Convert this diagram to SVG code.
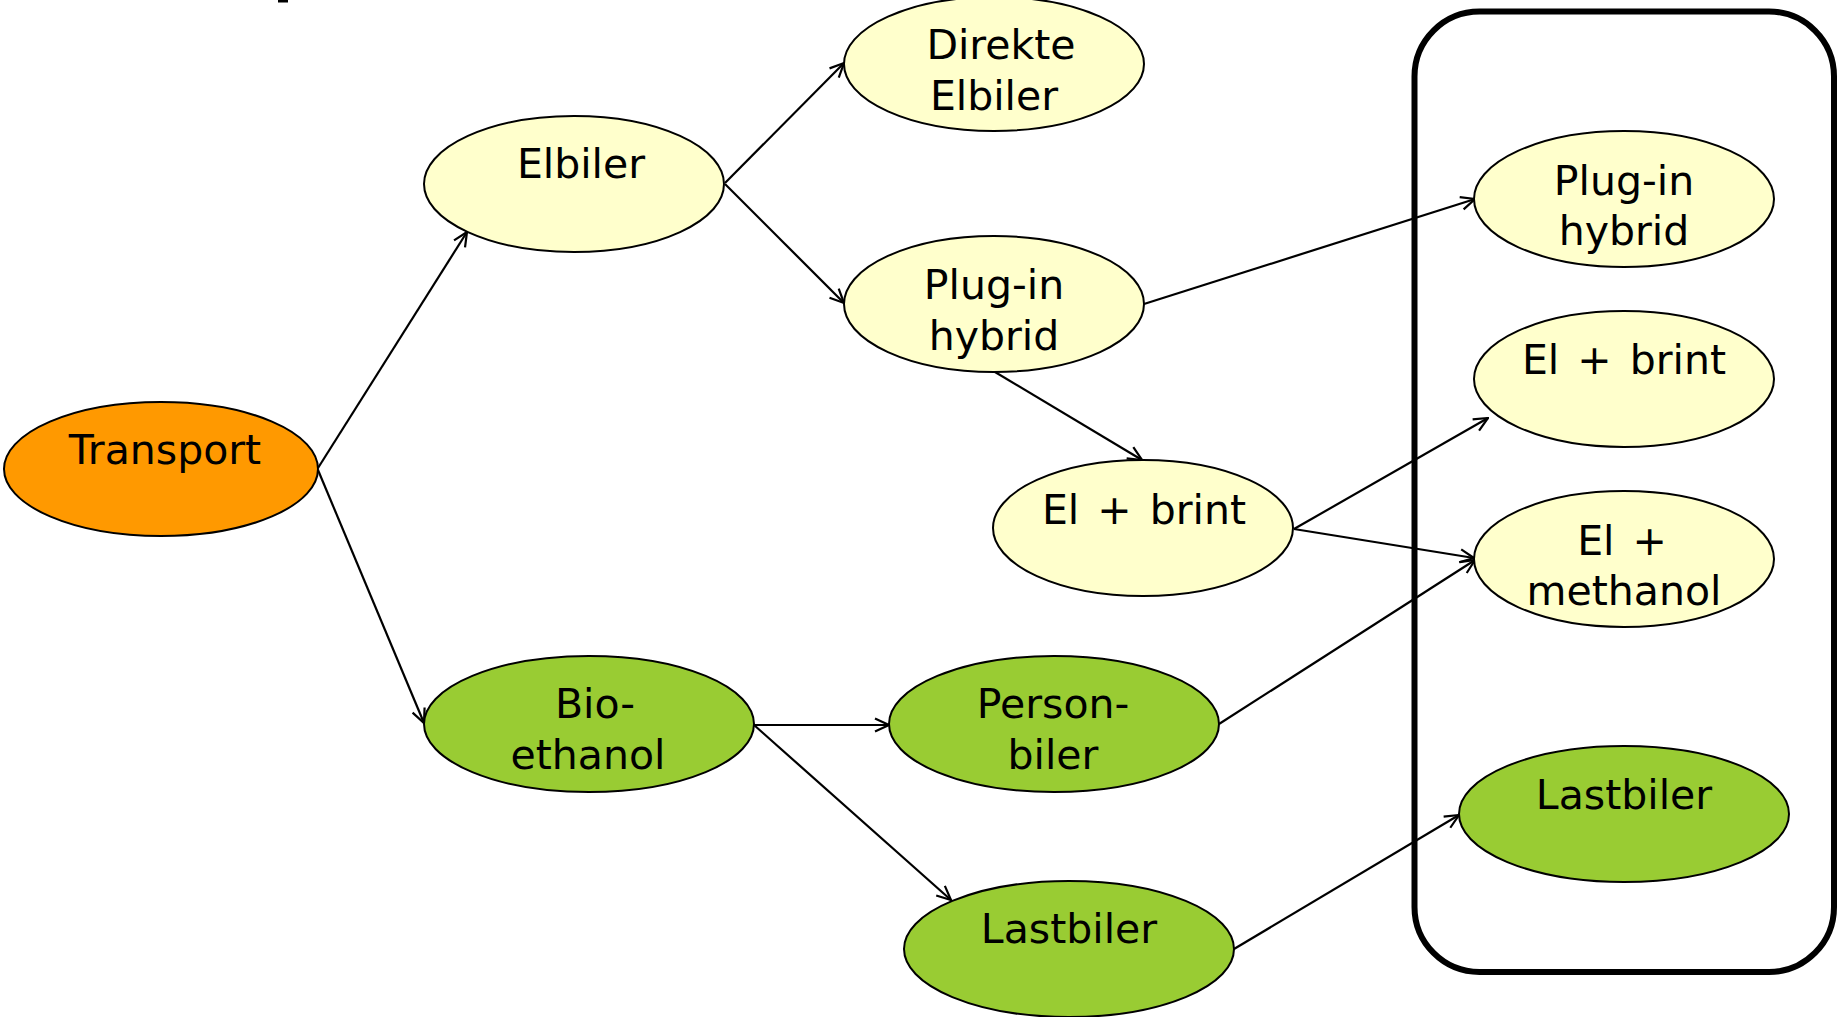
<svg xmlns="http://www.w3.org/2000/svg" width="1838" height="1017" viewBox="0 0 1838 1017">
<defs>
<style>
.y{fill:#FFFFCC;stroke:#000;stroke-width:2}
.o{fill:#FF9900;stroke:#000;stroke-width:2}
.g{fill:#99CC33;stroke:#000;stroke-width:2}
text{font-family:"DejaVu Sans","Liberation Sans",sans-serif;font-size:41px;fill:#000;text-anchor:middle}
.w{word-spacing:5px}
.c line{stroke:#000;stroke-width:2.2;marker-end:url(#ah)}
</style>
<marker id="ah" viewBox="0 0 16 16" refX="15" refY="8" markerWidth="16" markerHeight="16" markerUnits="userSpaceOnUse" orient="auto">
<path d="M1,1.5 L15,8 L1,14.5" fill="none" stroke="#000" stroke-width="2.2"/>
</marker>
</defs>
<rect width="1838" height="1017" fill="#fff"/>
<rect x="278" y="0" width="10" height="2.5" fill="#000"/>
<rect id="group-box" x="1414.5" y="11.5" width="419.5" height="960.5" rx="65" ry="65" fill="none" stroke="#000" stroke-width="6"/>
<g class="c" id="connectors">
<line x1="318" y1="468" x2="467" y2="232"/>
<line x1="318" y1="470" x2="424" y2="723"/>
<line x1="725" y1="183" x2="844" y2="63"/>
<line x1="725" y1="184" x2="844" y2="303"/>
<line x1="995" y1="372" x2="1142" y2="460"/>
<line x1="1144" y1="304" x2="1475" y2="199"/>
<line x1="1294" y1="529" x2="1488" y2="418"/>
<line x1="1294" y1="529" x2="1474" y2="558"/>
<line x1="754" y1="725" x2="889" y2="725"/>
<line x1="754" y1="725" x2="951" y2="900"/>
<line x1="1219" y1="724" x2="1475" y2="560"/>
<line x1="1234" y1="949" x2="1459" y2="815"/>
</g>
<g id="transport"><ellipse class="o" cx="161" cy="469" rx="157" ry="67"/><text x="165" y="464">Transport</text></g>
<g id="elbiler"><ellipse class="y" cx="574" cy="184" rx="150" ry="68"/><text x="581" y="178">Elbiler</text></g>
<g id="direkte-elbiler"><ellipse class="y" cx="994" cy="64" rx="150" ry="67"/><text x="1001" y="59">Direkte</text><text x="994" y="110">Elbiler</text></g>
<g id="plugin-mid"><ellipse class="y" cx="994" cy="304" rx="150" ry="68"/><text x="994" y="299">Plug-in</text><text x="994" y="350">hybrid</text></g>
<g id="elbrint-mid"><ellipse class="y" cx="1143" cy="528" rx="150" ry="68"/><text class="w" x="1144" y="524">El + brint</text></g>
<g id="bioethanol"><ellipse class="g" cx="589" cy="724" rx="165" ry="68"/><text x="595" y="718">Bio-</text><text x="588" y="769">ethanol</text></g>
<g id="personbiler"><ellipse class="g" cx="1054" cy="724" rx="165" ry="68"/><text x="1053" y="718">Person-</text><text x="1053" y="769">biler</text></g>
<g id="lastbiler-mid"><ellipse class="g" cx="1069" cy="949" rx="165" ry="68"/><text x="1069" y="943">Lastbiler</text></g>
<g id="plugin-right"><ellipse class="y" cx="1624" cy="199" rx="150" ry="68"/><text x="1624" y="195">Plug-in</text><text x="1624" y="245">hybrid</text></g>
<g id="elbrint-right"><ellipse class="y" cx="1624" cy="379" rx="150" ry="68"/><text class="w" x="1624" y="374">El + brint</text></g>
<g id="elmethanol-right"><ellipse class="y" cx="1624" cy="559" rx="150" ry="68"/><text class="w" x="1622" y="555">El +</text><text x="1624" y="605">methanol</text></g>
<g id="lastbiler-right"><ellipse class="g" cx="1624" cy="814" rx="165" ry="68"/><text x="1624" y="809">Lastbiler</text></g>
</svg>
